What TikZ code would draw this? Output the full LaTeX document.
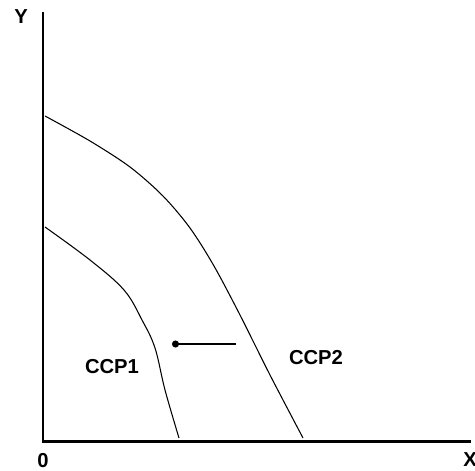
\documentclass[tikz,border=0pt]{standalone}
\usepackage{fontspec}
\setmainfont{Liberation Sans}
\usetikzlibrary{arrows.meta,positioning}
\begin{document}
\begin{tikzpicture}[
    x=0.02cm, y=-0.02cm,
    axis/.style={line width=1.7pt},
    curve/.style={line width=0.6pt},
    lbl/.style={font=\bfseries\fontsize{11.5}{13}\selectfont, inner sep=0pt},
    shiftarrow/.style={-{Circle[length=4pt]}, line width=0.6pt}
]
    \useasboundingbox (0,0) rectangle (475,470);
    % axes
    \coordinate (origin) at (43,441);
    \coordinate (ytop) at (43,12);
    \coordinate (xend) at (471,441);
    \draw[axis] (ytop) -- (origin) -- (xend);
    \node[lbl] (ylbl) at (21,17) {Y};
    \node[lbl] (olbl) at (43,461) {0};
    \node[lbl, anchor=west] (xlbl) at (463,460) {X};
    % curves
    \draw[curve] plot[smooth, tension=0.5] coordinates
        {(45,116) (90,141) (130,167) (163,196) (190,228) (214,266) (240,315) (270,375) (303,438)};
    \draw[curve] plot[smooth, tension=0.6] coordinates
        {(45,227) (90,260) (124,290) (142,320) (155,348) (165,390) (179,438)};
    \node[lbl] (ccp1) at (112,367) {CCP1};
    \node[lbl] (ccp2) at (316,358) {CCP2};
    % shift
    \coordinate (from) at (236,344);
    \coordinate (to) at (172,344);
    \draw[shiftarrow] (from) -- (to);
\end{tikzpicture}
\end{document}
